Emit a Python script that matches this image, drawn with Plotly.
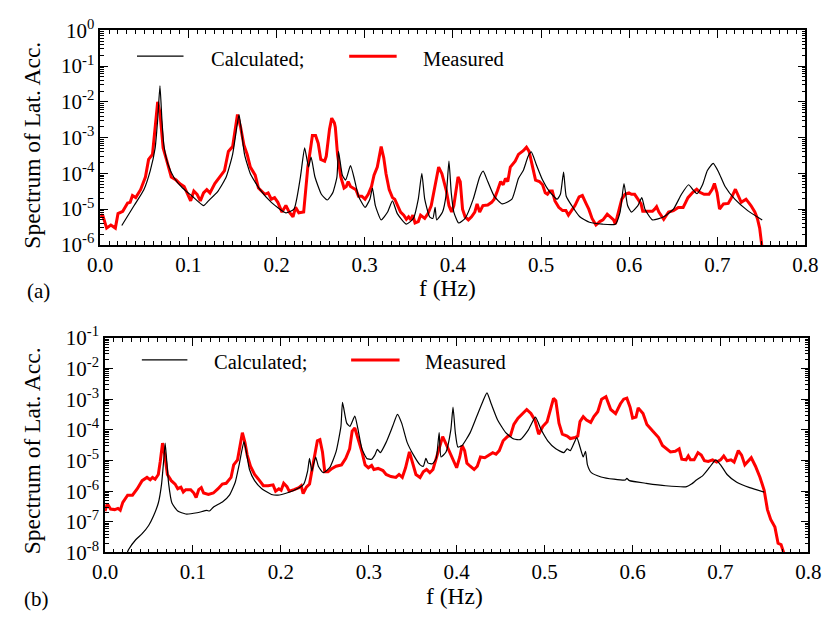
import plotly.graph_objects as go

# ---------------- panel (a) ----------------
f_calc_a = [0.0245, 0.0385, 0.0495, 0.0568, 0.0623, 0.0652, 0.0678, 0.0700, 0.0722, 0.0769,
            0.0843, 0.0934, 0.1044, 0.1172, 0.1227, 0.1337, 0.1429, 0.1502, 0.1546, 0.1575,
            0.1600, 0.1637, 0.1703, 0.1813, 0.1941, 0.2106, 0.2198, 0.2271, 0.2319, 0.2363,
            0.2392, 0.2436, 0.2509, 0.2575, 0.2637, 0.2685, 0.2703, 0.2747, 0.2784, 0.2839,
            0.2886, 0.2930, 0.3004, 0.3059, 0.3088, 0.3121, 0.3187, 0.3260, 0.3315, 0.3370,
            0.3473, 0.3553, 0.3608, 0.3648, 0.3681, 0.3736, 0.3773, 0.3799, 0.3817, 0.3883,
            0.3927, 0.3956, 0.3982, 0.4011, 0.4066, 0.4139, 0.4231, 0.4304, 0.4344, 0.4396,
            0.4469, 0.4560, 0.4670, 0.4744, 0.4799, 0.4854, 0.4890, 0.4945, 0.5018, 0.5092,
            0.5183, 0.5220, 0.5256, 0.5286, 0.5348, 0.5440, 0.5549, 0.5696, 0.5843, 0.5897,
            0.5941, 0.5982, 0.6025, 0.6099, 0.6143, 0.6179, 0.6264, 0.6392, 0.6502, 0.6593,
            0.6674, 0.6722, 0.6769, 0.6832, 0.6887, 0.6953, 0.7015, 0.7088, 0.7198, 0.7344,
            0.7509]
s_calc_a = [3.5e-6, 1.26e-5, 3.5e-5, 1.2e-4, 5.1e-4, 3.2e-3, 2.8e-2, 3.2e-3, 6.2e-4, 1.8e-4,
            7.2e-5, 3.9e-5, 2.3e-5, 1.26e-5, 1.7e-5, 3.2e-5, 7.9e-5, 3.4e-4, 1.7e-3, 4.4e-3,
            1.7e-3, 3.4e-4, 9.8e-5, 3.5e-5, 1.55e-5, 7.9e-6, 1.0e-5, 7.9e-5, 5.2e-4, 1.5e-4,
            2.85e-4, 7.9e-5, 2.6e-5, 1.8e-5, 2.85e-5, 7.9e-5, 4.1e-4, 8.9e-5, 6.5e-5, 1.64e-4,
            6.5e-5, 2.3e-5, 1.12e-5, 1.9e-5, 3.9e-5, 1.26e-5, 5.0e-6, 8.3e-6, 1.7e-5, 7.5e-6,
            3.8e-6, 5.5e-6, 1.9e-5, 1.0e-4, 1.9e-5, 6.1e-6, 5.5e-6, 1.12e-5, 5.0e-6, 8.3e-6,
            2.85e-5, 2.2e-4, 2.85e-5, 8.3e-6, 4.1e-6, 5.5e-6, 1.9e-5, 7.9e-5, 1.15e-4, 5.9e-5,
            2.3e-5, 1.4e-5, 1.9e-5, 7.2e-5, 1.2e-4, 3.0e-4, 4.0e-4, 1.8e-4, 6.5e-5, 3.2e-5,
            1.9e-5, 2.6e-5, 1.08e-4, 2.3e-5, 1.26e-5, 6.1e-6, 4.3e-6, 3.8e-6, 3.8e-6, 8.3e-6,
            5.2e-5, 1.26e-5, 8.3e-6, 1.26e-5, 2.1e-5, 1.0e-5, 5.0e-6, 6.1e-6, 1.0e-5, 2.6e-5,
            4.8e-5, 3.5e-5, 2.7e-5, 4.8e-5, 1.2e-4, 1.9e-4, 1.08e-4, 4.3e-5, 1.9e-5, 9.1e-6,
            5.0e-6]

f_meas_a = [0.0, 0.0026, 0.0073, 0.0121, 0.0172, 0.0202, 0.0256, 0.0311, 0.034, 0.0366,
            0.0403, 0.0458, 0.0513, 0.0549, 0.0593, 0.0623, 0.0652, 0.0678, 0.0696, 0.0714,
            0.0751, 0.0806, 0.0861, 0.0905, 0.0952, 0.0989, 0.1026, 0.1062, 0.1099, 0.1136,
            0.1172, 0.1209, 0.1245, 0.1300, 0.1355, 0.1410, 0.1454, 0.1502, 0.1557, 0.1593,
            0.1630, 0.1667, 0.1703, 0.1758, 0.1795, 0.1832, 0.1868, 0.1905, 0.1941, 0.1978,
            0.2015, 0.2062, 0.2106, 0.2143, 0.2187, 0.2216, 0.2253, 0.2308, 0.2326, 0.2355,
            0.2381, 0.2407, 0.2443, 0.2473, 0.2502, 0.2546, 0.2564, 0.2601, 0.2626, 0.2656,
            0.2667, 0.2692, 0.2729, 0.2766, 0.2791, 0.2813, 0.2839, 0.2875, 0.2901, 0.2930,
            0.2967, 0.3004, 0.3040, 0.3077, 0.3106, 0.3143, 0.3187, 0.3216, 0.3242, 0.3278,
            0.3315, 0.3341, 0.3370, 0.3407, 0.3443, 0.3473, 0.3498, 0.3524, 0.3546, 0.3571,
            0.3608, 0.3634, 0.3681, 0.3718, 0.3755, 0.3791, 0.3817, 0.3839, 0.3876, 0.3901,
            0.3927, 0.3956, 0.3986, 0.4011, 0.4037, 0.4059, 0.4084, 0.4110, 0.4139, 0.4176,
            0.4212, 0.4249, 0.4275, 0.4304, 0.4341, 0.4396, 0.4440, 0.4469, 0.4505, 0.4542,
            0.4571, 0.4597, 0.4623, 0.4652, 0.4707, 0.4744, 0.4799, 0.4835, 0.4865, 0.4909,
            0.4938, 0.4982, 0.5018, 0.5048, 0.5073, 0.5099, 0.5128, 0.5158, 0.5201, 0.5245,
            0.5282, 0.5311, 0.5348, 0.5385, 0.5432, 0.5469, 0.5513, 0.5542, 0.5579, 0.5623,
            0.5667, 0.5703, 0.5751, 0.5795, 0.5824, 0.5843, 0.5879, 0.5916, 0.5953, 0.5997,
            0.6026, 0.6062, 0.6099, 0.6135, 0.6154, 0.6209, 0.6264, 0.6289, 0.6311, 0.6337,
            0.6392, 0.6447, 0.6502, 0.6557, 0.6612, 0.6641, 0.6667, 0.6722, 0.6766, 0.6802,
            0.6850, 0.6905, 0.6942, 0.6967, 0.6997, 0.7025, 0.7070, 0.7124, 0.7161, 0.7205,
            0.7234, 0.7271, 0.7326, 0.7381, 0.7425, 0.7454, 0.7480, 0.7509, 0.7530]
s_meas_a = [6.0e-6, 7.1e-6, 2.95e-6, 3.6e-6, 2.95e-6, 7.5e-6, 8.7e-6, 1.48e-5, 1.55e-5, 2.4e-5,
            2.1e-5, 3.5e-5, 7.9e-5, 2.45e-4, 3.4e-4, 2.1e-3, 1.0e-2, 4.9e-3, 1.4e-3, 5.1e-4,
            2.45e-4, 7.9e-5, 6.5e-5, 5.1e-5, 4.3e-5, 2.6e-5, 1.7e-5, 3.2e-5, 2.6e-5, 1.7e-5,
            2.85e-5, 3.5e-5, 2.85e-5, 5.2e-5, 7.9e-5, 1.2e-4, 4.1e-4, 5.6e-4, 4.4e-3, 1.95e-3,
            6.2e-4, 3.4e-4, 1.5e-4, 8.9e-5, 3.9e-5, 3.2e-5, 2.6e-5, 2.85e-5, 1.9e-5, 2.1e-5,
            1.55e-5, 8.3e-6, 1.26e-5, 8.3e-6, 6.1e-6, 1.12e-5, 7.9e-6, 8.3e-6, 2.85e-5, 1.5e-4,
            4.1e-4, 1.15e-3, 1.15e-3, 6.9e-4, 2.45e-4, 2.2e-4, 3.0e-4, 1.7e-3, 3.5e-3, 2.6e-3,
            1.95e-3, 3.4e-4, 7.9e-5, 3.9e-5, 4.3e-5, 5.9e-5, 4.3e-5, 3.9e-5, 3.5e-5, 2.3e-5,
            2.3e-5, 1.9e-5, 2.6e-5, 4.3e-5, 8.9e-5, 1.5e-4, 5.6e-4, 2.75e-4, 9.8e-5, 3.5e-5,
            2.1e-5, 1.9e-5, 1.26e-5, 8.3e-6, 6.8e-6, 5.2e-6, 6.1e-6, 5.0e-6, 6.8e-6, 4.1e-6,
            4.5e-6, 6.8e-6, 5.5e-6, 7.5e-6, 1.26e-5, 3.5e-5, 6.5e-5, 1.5e-4, 9.8e-5, 5.9e-5,
            3.2e-5, 1.26e-5, 8.3e-6, 1.26e-5, 3.5e-5, 7.9e-5, 5.9e-5, 1.0e-5, 6.1e-6, 5.0e-6,
            6.1e-6, 8.3e-6, 1.4e-5, 8.3e-6, 1.26e-5, 1.3e-5, 1.55e-5, 1.9e-5, 3.2e-5, 5.9e-5,
            4.8e-5, 7.2e-5, 5.9e-5, 1.5e-4, 2.2e-4, 3.4e-4, 4.3e-4, 5.4e-4, 4.1e-4, 1.5e-4,
            6.5e-5, 5.9e-5, 4.8e-5, 2.85e-5, 2.6e-5, 3.2e-5, 3.2e-5, 1.7e-5, 1.12e-5, 9.1e-6,
            9.1e-6, 6.8e-6, 9.1e-6, 1.26e-5, 2.2e-5, 2.4e-5, 1.4e-5, 1.0e-5, 5.5e-6, 3.6e-6,
            4.5e-6, 5.0e-6, 7.2e-6, 5.9e-6, 5.0e-6, 3.8e-6, 8.3e-6, 1.9e-5, 2.6e-5, 2.85e-5,
            2.6e-5, 2.6e-5, 1.9e-5, 1.4e-5, 8.7e-6, 8.8e-6, 8.7e-6, 1.0e-5, 1.17e-5, 8.3e-6,
            5.2e-6, 8.3e-6, 9.1e-6, 1.12e-5, 1.12e-5, 1.55e-5, 2.1e-5, 2.95e-5, 3.6e-5, 2.95e-5,
            2.6e-5, 2.6e-5, 3.6e-5, 5.2e-5, 2.85e-5, 1.0e-5, 1.4e-5, 1.45e-5, 2.1e-5, 3.6e-5,
            2.6e-5, 1.55e-5, 1.9e-5, 1.26e-5, 8.3e-6, 5.5e-6, 2.95e-6, 9.5e-7, 3.0e-7]

# ---------------- panel (b) ----------------
f_calc_b = [0.0240, 0.0268, 0.0349, 0.0422, 0.0496, 0.0551, 0.0606, 0.0643, 0.0669, 0.0684,
            0.0702, 0.0724, 0.0761, 0.0827, 0.0918, 0.1047, 0.1158, 0.1187, 0.1232, 0.1342,
            0.1415, 0.1481, 0.1525, 0.1580, 0.1607, 0.1643, 0.1701, 0.1783, 0.1893, 0.1966,
            0.2076, 0.2187, 0.2260, 0.2304, 0.2326, 0.2352, 0.2370, 0.2396, 0.2426, 0.2481,
            0.2555, 0.2627, 0.2683, 0.2701, 0.2749, 0.2786, 0.2841, 0.2874, 0.2922, 0.2977,
            0.3032, 0.3068, 0.3098, 0.3131, 0.3197, 0.3271, 0.3326, 0.3374, 0.3436, 0.3509,
            0.3583, 0.3620, 0.3649, 0.3675, 0.3723, 0.3767, 0.3800, 0.3822, 0.3878, 0.3933,
            0.3958, 0.3984, 0.4013, 0.4061, 0.4153, 0.4227, 0.4300, 0.4344, 0.4392, 0.4465,
            0.4557, 0.4650, 0.4722, 0.4815, 0.4895, 0.4961, 0.5035, 0.5127, 0.5218, 0.5256,
            0.5292, 0.5366, 0.5402, 0.5439, 0.5465, 0.5487, 0.5531, 0.5642, 0.5788, 0.5917,
            0.5935, 0.5965, 0.6155, 0.6376, 0.6615, 0.6670, 0.6726, 0.6799, 0.6873, 0.6946,
            0.7001, 0.7075, 0.7185, 0.7332, 0.7497]
s_calc_b = [8.0e-9, 1.25e-8, 2.6e-8, 4.1e-8, 7.6e-8, 1.55e-7, 4.1e-7, 1.7e-6, 1.17e-5, 3.7e-5,
            9.3e-6, 1.7e-6, 4.1e-7, 2.25e-7, 1.8e-7, 1.97e-7, 2.35e-7, 2.25e-7, 3.0e-7, 4.6e-7,
            7.4e-7, 1.95e-6, 7.2e-6, 4.1e-5, 1.9e-5, 5.1e-6, 2.2e-6, 1.2e-6, 7.8e-7, 7.4e-7,
            8.9e-7, 1.2e-6, 1.7e-6, 4.5e-6, 1.17e-5, 4.5e-6, 7.2e-6, 1.3e-5, 6.5e-6, 4.0e-6,
            5.8e-6, 1.9e-5, 1.3e-4, 7.9e-4, 1.65e-4, 1.3e-4, 2.8e-4, 1.15e-4, 2.4e-5, 1.17e-5,
            1.1e-5, 1.5e-5, 2.3e-5, 1.8e-5, 3.9e-5, 1.3e-4, 3.2e-4, 1.65e-4, 3.9e-5, 1.5e-5,
            7.2e-6, 6.5e-6, 1.17e-5, 8.2e-6, 7.8e-6, 1.17e-5, 8.1e-5, 1.3e-5, 1.9e-5, 1.0e-4,
            5.5e-4, 8.1e-5, 2.75e-5, 3.1e-5, 8.1e-5, 2.7e-4, 8.9e-4, 1.6e-3, 7.1e-4, 2.1e-4,
            8.1e-5, 5.0e-5, 4.8e-5, 1.0e-4, 2.6e-4, 1.0e-4, 4.4e-5, 2.4e-5, 1.8e-5, 2.4e-5,
            2.1e-5, 5.6e-5, 2.75e-5, 1.3e-5, 2.0e-5, 7.2e-6, 4.0e-6, 2.9e-6, 2.45e-6, 2.3e-6,
            2.6e-6, 2.2e-6, 1.8e-6, 1.5e-6, 1.4e-6, 1.7e-6, 2.3e-6, 3.2e-6, 5.8e-6, 1.05e-5,
            7.2e-6, 3.5e-6, 1.95e-6, 1.3e-6, 9.3e-7]

f_meas_b = [0.0, 0.0026, 0.0063, 0.0110, 0.0147, 0.0173, 0.0202, 0.0257, 0.0312, 0.0367,
            0.0422, 0.0477, 0.0514, 0.0540, 0.0570, 0.0606, 0.0628, 0.0654, 0.0680, 0.0709,
            0.0753, 0.0797, 0.0827, 0.0863, 0.0890, 0.0918, 0.0974, 0.1010, 0.1036, 0.1066,
            0.1095, 0.1121, 0.1176, 0.1232, 0.1286, 0.1334, 0.1378, 0.1433, 0.1463, 0.1507,
            0.1536, 0.1562, 0.1591, 0.1617, 0.1654, 0.1701, 0.1745, 0.1801, 0.1856, 0.1911,
            0.1940, 0.1977, 0.2003, 0.2032, 0.2069, 0.2095, 0.2150, 0.2205, 0.2231, 0.2253,
            0.2290, 0.2326, 0.2352, 0.2389, 0.2415, 0.2444, 0.2473, 0.2499, 0.2536, 0.2583,
            0.2628, 0.2690, 0.2738, 0.2782, 0.2811, 0.2841, 0.2874, 0.2922, 0.2958, 0.2995,
            0.3032, 0.3058, 0.3106, 0.3161, 0.3197, 0.3252, 0.3308, 0.3344, 0.3381, 0.3418,
            0.3462, 0.3498, 0.3536, 0.3583, 0.3620, 0.3657, 0.3694, 0.3730, 0.3767, 0.3804,
            0.3840, 0.3878, 0.3933, 0.3999, 0.4035, 0.4061, 0.4090, 0.4116, 0.4153, 0.4198,
            0.4234, 0.4270, 0.4319, 0.4374, 0.4410, 0.4447, 0.4484, 0.4528, 0.4576, 0.4612,
            0.4650, 0.4697, 0.4749, 0.4796, 0.4844, 0.4888, 0.4932, 0.4980, 0.5028, 0.5064,
            0.5101, 0.5127, 0.5163, 0.5201, 0.5256, 0.5292, 0.5347, 0.5377, 0.5402, 0.5439,
            0.5476, 0.5524, 0.5560, 0.5604, 0.5648, 0.5697, 0.5752, 0.5807, 0.5862, 0.5899,
            0.5935, 0.5972, 0.6001, 0.6039, 0.6064, 0.6119, 0.6163, 0.6229, 0.6296, 0.6340,
            0.6384, 0.6431, 0.6486, 0.6530, 0.6560, 0.6608, 0.6634, 0.6659, 0.6700, 0.6744,
            0.6781, 0.6817, 0.6861, 0.6910, 0.6957, 0.7001, 0.7037, 0.7075, 0.7119, 0.7155,
            0.7203, 0.7240, 0.7277, 0.7313, 0.7350, 0.7398, 0.7450, 0.7497, 0.7534, 0.7571,
            0.7619, 0.7655, 0.7689, 0.7718, 0.7740]
s_meas_b = [2.25e-7, 3.9e-7, 2.6e-7, 2.5e-7, 2.75e-7, 2.4e-7, 4.3e-7, 7.4e-7, 7.4e-7, 1.2e-6,
            2.2e-6, 2.8e-6, 2.35e-6, 2.8e-6, 2.45e-6, 3.5e-6, 9.3e-6, 3.7e-5, 1.5e-5, 3.5e-6,
            2.2e-6, 1.7e-6, 1.2e-6, 1.35e-6, 9.4e-7, 1.12e-6, 1.12e-6, 8.7e-7, 6.2e-7, 1.12e-6,
            1.3e-6, 8.7e-7, 7.8e-7, 8.7e-7, 1.2e-6, 1.7e-6, 1.8e-6, 2.8e-6, 7.2e-6, 1.05e-5,
            3.1e-5, 8.1e-5, 3.9e-5, 1.5e-5, 6.5e-6, 3.5e-6, 2.45e-6, 1.5e-6, 1.5e-6, 1.6e-6,
            1.0e-6, 1.2e-6, 1.07e-6, 1.8e-6, 1.4e-6, 1.0e-6, 1.12e-6, 1.3e-6, 1.5e-6, 8.3e-7,
            1.35e-6, 1.7e-6, 4.5e-6, 1.9e-5, 4.4e-5, 4.8e-5, 1.9e-5, 4.3e-6, 4.3e-6, 5.5e-6,
            6.5e-6, 7.2e-6, 1.17e-5, 2.4e-5, 9.1e-5, 1.15e-4, 5.6e-5, 1.9e-5, 7.2e-6, 5.8e-6,
            6.9e-6, 5.1e-6, 5.5e-6, 4.7e-6, 3.5e-6, 3.0e-6, 2.8e-6, 3.5e-6, 2.8e-6, 5.8e-6,
            1.9e-5, 8.2e-6, 3.5e-6, 2.8e-6, 4.3e-6, 5.1e-6, 4.0e-6, 5.1e-6, 1.17e-5, 2.4e-5,
            6.0e-5, 3.5e-5, 1.5e-5, 5.8e-6, 1.3e-5, 3.1e-5, 2.1e-5, 8.2e-6, 6.5e-6, 5.1e-6,
            6.5e-6, 1.3e-5, 1.23e-5, 1.6e-5, 1.8e-5, 1.6e-5, 2.1e-5, 4.4e-5, 6.0e-5, 6.6e-5,
            1.5e-4, 2.4e-4, 3.4e-4, 4.6e-4, 3.4e-4, 2.1e-4, 7.2e-5, 1.3e-4, 1.85e-4, 4.4e-4,
            1.06e-3, 8.9e-4, 1.65e-4, 7.2e-5, 6.3e-5, 5.2e-5, 5.6e-5, 6.3e-5, 1.85e-4, 2.7e-4,
            2.1e-4, 1.75e-4, 2.7e-4, 3.9e-4, 1.0e-3, 1.2e-3, 4.6e-4, 3.4e-4, 7.1e-4, 1.0e-3,
            1.08e-3, 5.5e-4, 2.4e-4, 2.6e-4, 5.2e-4, 3.4e-4, 1.5e-4, 9.1e-5, 5.6e-5, 3.1e-5,
            2.4e-5, 1.9e-5, 2.0e-5, 2.4e-5, 1.1e-5, 1.05e-5, 1.4e-5, 1.05e-5, 1.05e-5, 1.8e-5,
            1.5e-5, 9.8e-6, 9.3e-6, 1.05e-5, 8.9e-6, 1.05e-5, 1.4e-5, 9.8e-6, 1.05e-5, 8.9e-6,
            2.1e-5, 1.5e-5, 7.2e-6, 9.3e-6, 1.23e-5, 6.5e-6, 2.8e-6, 1.06e-6, 2.5e-7, 1.2e-7,
            6.7e-8, 2.0e-8, 1.8e-8, 1.0e-8, 6.0e-9]

x_ticks = [0.0, 0.1, 0.2, 0.3, 0.4, 0.5, 0.6, 0.7, 0.8]
y_exp_a = [-6, -5, -4, -3, -2, -1, 0]
y_exp_b = [-8, -7, -6, -5, -4, -3, -2, -1]
label_calc = "Calculated;"
label_meas = "Measured"
x_title = "f (Hz)"
y_title = "Spectrum of Lat. Acc."

W, H = 834, 621
FONT = "'Liberation Serif', 'Times New Roman', Times, 'DejaVu Serif', serif"
RED = "#ff0000"


def px(x):
    return x / W


def py(y):
    return 1 - y / H


fig = go.Figure()

# measured first so the calculated curve sits on top
fig.add_trace(go.Scatter(x=f_meas_a, y=s_meas_a, mode="lines", xaxis="x", yaxis="y",
                         line=dict(color=RED, width=3), showlegend=False))
fig.add_trace(go.Scatter(x=f_calc_a, y=s_calc_a, mode="lines", xaxis="x", yaxis="y",
                         line=dict(color="black", width=1.2, shape="spline", smoothing=0.5),
                         showlegend=False))
fig.add_trace(go.Scatter(x=f_meas_b, y=s_meas_b, mode="lines", xaxis="x2", yaxis="y2",
                         line=dict(color=RED, width=3), showlegend=False))
fig.add_trace(go.Scatter(x=f_calc_b, y=s_calc_b, mode="lines", xaxis="x2", yaxis="y2",
                         line=dict(color="black", width=1.2, shape="spline", smoothing=0.5),
                         showlegend=False))

tick_font = dict(family=FONT, size=21, color="black")


def xaxis_cfg(x0, x1, anchor):
    return dict(domain=[px(x0), px(x1)], anchor=anchor, range=[0, 0.8],
                tickvals=x_ticks, ticktext=[f"{v:.1f}" for v in x_ticks],
                ticks="inside", ticklen=8, tickwidth=1.2, tickcolor="black",
                minor=dict(ticks="inside", ticklen=4, dtick=0.01, tickcolor="black", tickwidth=1),
                mirror="allticks", showline=True, linecolor="black", linewidth=1.5,
                showgrid=False, zeroline=False, tickfont=tick_font)


def yaxis_cfg(y0, y1, exps, anchor):
    return dict(domain=[py(y1), py(y0)], anchor=anchor, type="log",
                range=[exps[0], exps[-1]],
                tickvals=[10.0 ** e for e in exps],
                ticktext=[f"10<sup>{e}</sup>" for e in exps],
                ticks="inside", ticklen=8, tickwidth=1.2, tickcolor="black",
                minor=dict(ticks="inside", ticklen=4, dtick="D1", tickcolor="black", tickwidth=1),
                mirror="allticks", showline=True, linecolor="black", linewidth=1.5,
                showgrid=False, zeroline=False, tickfont=tick_font)


fig.update_layout(
    width=W, height=H, margin=dict(l=0, r=0, t=0, b=0),
    paper_bgcolor="white", plot_bgcolor="white",
    font=dict(family=FONT, color="black"),
    xaxis=xaxis_cfg(90, 818, "y"),
    yaxis=yaxis_cfg(17, 241, y_exp_a, "x"),
    xaxis2=xaxis_cfg(95, 821, "y2"),
    yaxis2=yaxis_cfg(338, 562, y_exp_b, "x2"),
)

shapes = []
annotations = []

# in-plot key, one per panel
for (bx0, bx1, rx0, rx1, ly, tc, tm, ty) in [
        (128, 176, 347, 396, 44, 202, 421, 47),
        (133, 180, 349, 399, 361, 205, 423, 363)]:
    shapes.append(dict(type="line", xref="paper", yref="paper", x0=px(bx0), x1=px(bx1),
                       y0=py(ly), y1=py(ly), line=dict(color="black", width=1.2)))
    shapes.append(dict(type="line", xref="paper", yref="paper", x0=px(rx0), x1=px(rx1),
                       y0=py(ly), y1=py(ly), line=dict(color=RED, width=3)))
    annotations.append(dict(text=label_calc, xref="paper", yref="paper", x=px(tc), y=py(ty),
                            xanchor="left", yanchor="middle", showarrow=False,
                            font=dict(family=FONT, size=20.5)))
    annotations.append(dict(text=label_meas, xref="paper", yref="paper", x=px(tm), y=py(ty),
                            xanchor="left", yanchor="middle", showarrow=False,
                            font=dict(family=FONT, size=20.5)))

# axis titles and panel tags
for (xt, yt, ytc, tag_x, tag_y, tag) in [(448, 286, 137, 26, 289, "(a)"),
                                         (456, 607, 456, 24, 611, "(b)")]:
    annotations.append(dict(text=x_title, xref="paper", yref="paper", x=px(xt), y=py(yt),
                            xanchor="center", yanchor="middle", showarrow=False,
                            font=dict(family=FONT, size=23.5)))
    annotations.append(dict(text=y_title, xref="paper", yref="paper", x=px(20), y=py(ytc),
                            xanchor="center", yanchor="middle", textangle=-90, showarrow=False,
                            font=dict(family=FONT, size=23.5)))
    annotations.append(dict(text=tag, xref="paper", yref="paper", x=px(tag_x), y=py(tag_y),
                            xanchor="center", yanchor="middle", showarrow=False,
                            font=dict(family=FONT, size=21)))

fig.update_layout(shapes=shapes, annotations=annotations)

fig.write_html("out.html")
